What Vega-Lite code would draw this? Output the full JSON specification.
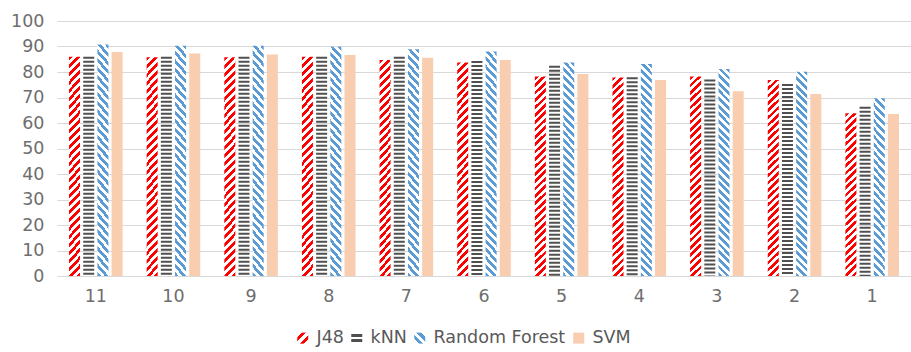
{
  "$schema": "https://vega.github.io/schema/vega-lite/v6.json",
  "autosize": "none",
  "width": 854,
  "height": 255,
  "padding": {"left": 57, "top": 21, "right": 0, "bottom": 76},
  "data": {"values": [
    {"g":"11","s":"J48","v":86.0},{"g":"11","s":"kNN","v":86.0},{"g":"11","s":"Random Forest","v":90.8},{"g":"11","s":"SVM","v":87.8},
    {"g":"10","s":"J48","v":85.8},{"g":"10","s":"kNN","v":86.0},{"g":"10","s":"Random Forest","v":90.3},{"g":"10","s":"SVM","v":87.3},
    {"g":"9","s":"J48","v":85.8},{"g":"9","s":"kNN","v":86.0},{"g":"9","s":"Random Forest","v":90.3},{"g":"9","s":"SVM","v":86.9},
    {"g":"8","s":"J48","v":86.0},{"g":"8","s":"kNN","v":86.0},{"g":"8","s":"Random Forest","v":89.9},{"g":"8","s":"SVM","v":86.7},
    {"g":"7","s":"J48","v":84.7},{"g":"7","s":"kNN","v":86.0},{"g":"7","s":"Random Forest","v":88.9},{"g":"7","s":"SVM","v":85.6},
    {"g":"6","s":"J48","v":83.7},{"g":"6","s":"kNN","v":84.3},{"g":"6","s":"Random Forest","v":88.0},{"g":"6","s":"SVM","v":84.7},
    {"g":"5","s":"J48","v":78.2},{"g":"5","s":"kNN","v":82.5},{"g":"5","s":"Random Forest","v":83.7},{"g":"5","s":"SVM","v":79.2},
    {"g":"4","s":"J48","v":77.8},{"g":"4","s":"kNN","v":77.9},{"g":"4","s":"Random Forest","v":83.1},{"g":"4","s":"SVM","v":76.9},
    {"g":"3","s":"J48","v":78.2},{"g":"3","s":"kNN","v":77.1},{"g":"3","s":"Random Forest","v":81.2},{"g":"3","s":"SVM","v":72.5},
    {"g":"2","s":"J48","v":76.9},{"g":"2","s":"kNN","v":75.3},{"g":"2","s":"Random Forest","v":80.1},{"g":"2","s":"SVM","v":71.4},
    {"g":"1","s":"J48","v":63.8},{"g":"1","s":"kNN","v":66.4},{"g":"1","s":"Random Forest","v":69.7},{"g":"1","s":"SVM","v":63.5}
  ]},
  "encoding": {
    "x": {"field": "g", "type": "ordinal",
      "scale": {"domain": ["11","10","9","8","7","6","5","4","3","2","1"], "paddingInner": 0.31, "paddingOuter": 0.155},
      "axis": {"title": null, "labelAngle": 0, "ticks": false, "grid": false, "labelFontSize": 17.5, "labelColor": "#6e6e6e", "labelPadding": 11, "domainColor": "#d9d9d9", "domainWidth": 1}},
    "xOffset": {"field": "s", "type": "nominal",
      "scale": {"domain": ["J48","kNN","Random Forest","SVM"], "paddingInner": 0.224, "paddingOuter": 0}},
    "y": {"field": "v", "type": "quantitative", "stack": null,
      "scale": {"domain": [0, 100]},
      "axis": {"title": null, "values": [0,10,20,30,40,50,60,70,80,90,100], "domain": false, "ticks": false, "labelPadding": 13, "gridColor": "#d9d9d9", "gridWidth": 1, "labelFontSize": 17.5, "labelColor": "#6e6e6e"}}
  },
  "layer": [
    {
      "transform": [{"filter": "datum.s === 'J48'"}],
      "mark": {"type": "bar"},
      "encoding": {
        "fill": {
          "condition": {"test": "datum.v < 75", "value": {"gradient": "linear", "x1": 0, "y1": 0, "x2": 0.0689, "y2": 1.0647, "stops": [
{"offset":0,"color":"red"},
{"offset":0.021,"color":"red"},{"offset":0.021,"color":"white"},
{"offset":0.042,"color":"white"},{"offset":0.042,"color":"red"},
{"offset":0.063,"color":"red"},{"offset":0.063,"color":"white"},
{"offset":0.084,"color":"white"},{"offset":0.084,"color":"red"},
{"offset":0.105,"color":"red"},{"offset":0.105,"color":"white"},
{"offset":0.126,"color":"white"},{"offset":0.126,"color":"red"},
{"offset":0.147,"color":"red"},{"offset":0.147,"color":"white"},
{"offset":0.168,"color":"white"},{"offset":0.168,"color":"red"},
{"offset":0.189,"color":"red"},{"offset":0.189,"color":"white"},
{"offset":0.21,"color":"white"},{"offset":0.21,"color":"red"},
{"offset":0.231,"color":"red"},{"offset":0.231,"color":"white"},
{"offset":0.252,"color":"white"},{"offset":0.252,"color":"red"},
{"offset":0.273,"color":"red"},{"offset":0.273,"color":"white"},
{"offset":0.294,"color":"white"},{"offset":0.294,"color":"red"},
{"offset":0.315,"color":"red"},{"offset":0.315,"color":"white"},
{"offset":0.336,"color":"white"},{"offset":0.336,"color":"red"},
{"offset":0.357,"color":"red"},{"offset":0.357,"color":"white"},
{"offset":0.378,"color":"white"},{"offset":0.378,"color":"red"},
{"offset":0.399,"color":"red"},{"offset":0.399,"color":"white"},
{"offset":0.42,"color":"white"},{"offset":0.42,"color":"red"},
{"offset":0.441,"color":"red"},{"offset":0.441,"color":"white"},
{"offset":0.462,"color":"white"},{"offset":0.462,"color":"red"},
{"offset":0.483,"color":"red"},{"offset":0.483,"color":"white"},
{"offset":0.504,"color":"white"},{"offset":0.504,"color":"red"},
{"offset":0.525,"color":"red"},{"offset":0.525,"color":"white"},
{"offset":0.546,"color":"white"},{"offset":0.546,"color":"red"},
{"offset":0.567,"color":"red"},{"offset":0.567,"color":"white"},
{"offset":0.588,"color":"white"},{"offset":0.588,"color":"red"},
{"offset":0.609,"color":"red"},{"offset":0.609,"color":"white"},
{"offset":0.63,"color":"white"},{"offset":0.63,"color":"red"},
{"offset":0.651,"color":"red"},{"offset":0.651,"color":"white"},
{"offset":0.672,"color":"white"},{"offset":0.672,"color":"red"},
{"offset":0.693,"color":"red"},{"offset":0.693,"color":"white"},
{"offset":0.714,"color":"white"},{"offset":0.714,"color":"red"},
{"offset":0.735,"color":"red"},{"offset":0.735,"color":"white"},
{"offset":0.756,"color":"white"},{"offset":0.756,"color":"red"},
{"offset":0.777,"color":"red"},{"offset":0.777,"color":"white"},
{"offset":0.798,"color":"white"},{"offset":0.798,"color":"red"},
{"offset":0.819,"color":"red"},{"offset":0.819,"color":"white"},
{"offset":0.84,"color":"white"},{"offset":0.84,"color":"red"},
{"offset":0.861,"color":"red"},{"offset":0.861,"color":"white"},
{"offset":0.882,"color":"white"},{"offset":0.882,"color":"red"},
{"offset":0.903,"color":"red"},{"offset":0.903,"color":"white"},
{"offset":0.924,"color":"white"},{"offset":0.924,"color":"red"},
{"offset":0.945,"color":"red"},{"offset":0.945,"color":"white"},
{"offset":0.966,"color":"white"},{"offset":0.966,"color":"red"},
{"offset":0.987,"color":"red"},{"offset":0.987,"color":"white"},
{"offset":1,"color":"white"}
          ]}},
          "value": {"gradient": "linear", "x1": 0, "y1": 0, "x2": 0.0566, "y2": 1.0537, "stops": [
{"offset":0,"color":"red"},
{"offset":0.0175,"color":"red"},{"offset":0.0175,"color":"white"},
{"offset":0.035,"color":"white"},{"offset":0.035,"color":"red"},
{"offset":0.0525,"color":"red"},{"offset":0.0525,"color":"white"},
{"offset":0.07,"color":"white"},{"offset":0.07,"color":"red"},
{"offset":0.0875,"color":"red"},{"offset":0.0875,"color":"white"},
{"offset":0.105,"color":"white"},{"offset":0.105,"color":"red"},
{"offset":0.1225,"color":"red"},{"offset":0.1225,"color":"white"},
{"offset":0.14,"color":"white"},{"offset":0.14,"color":"red"},
{"offset":0.1575,"color":"red"},{"offset":0.1575,"color":"white"},
{"offset":0.175,"color":"white"},{"offset":0.175,"color":"red"},
{"offset":0.1925,"color":"red"},{"offset":0.1925,"color":"white"},
{"offset":0.21,"color":"white"},{"offset":0.21,"color":"red"},
{"offset":0.2275,"color":"red"},{"offset":0.2275,"color":"white"},
{"offset":0.245,"color":"white"},{"offset":0.245,"color":"red"},
{"offset":0.2625,"color":"red"},{"offset":0.2625,"color":"white"},
{"offset":0.28,"color":"white"},{"offset":0.28,"color":"red"},
{"offset":0.2975,"color":"red"},{"offset":0.2975,"color":"white"},
{"offset":0.315,"color":"white"},{"offset":0.315,"color":"red"},
{"offset":0.3325,"color":"red"},{"offset":0.3325,"color":"white"},
{"offset":0.35,"color":"white"},{"offset":0.35,"color":"red"},
{"offset":0.3675,"color":"red"},{"offset":0.3675,"color":"white"},
{"offset":0.385,"color":"white"},{"offset":0.385,"color":"red"},
{"offset":0.4025,"color":"red"},{"offset":0.4025,"color":"white"},
{"offset":0.42,"color":"white"},{"offset":0.42,"color":"red"},
{"offset":0.4375,"color":"red"},{"offset":0.4375,"color":"white"},
{"offset":0.455,"color":"white"},{"offset":0.455,"color":"red"},
{"offset":0.4725,"color":"red"},{"offset":0.4725,"color":"white"},
{"offset":0.49,"color":"white"},{"offset":0.49,"color":"red"},
{"offset":0.5075,"color":"red"},{"offset":0.5075,"color":"white"},
{"offset":0.525,"color":"white"},{"offset":0.525,"color":"red"},
{"offset":0.5425,"color":"red"},{"offset":0.5425,"color":"white"},
{"offset":0.56,"color":"white"},{"offset":0.56,"color":"red"},
{"offset":0.5775,"color":"red"},{"offset":0.5775,"color":"white"},
{"offset":0.595,"color":"white"},{"offset":0.595,"color":"red"},
{"offset":0.6125,"color":"red"},{"offset":0.6125,"color":"white"},
{"offset":0.63,"color":"white"},{"offset":0.63,"color":"red"},
{"offset":0.6475,"color":"red"},{"offset":0.6475,"color":"white"},
{"offset":0.665,"color":"white"},{"offset":0.665,"color":"red"},
{"offset":0.6825,"color":"red"},{"offset":0.6825,"color":"white"},
{"offset":0.7,"color":"white"},{"offset":0.7,"color":"red"},
{"offset":0.7175,"color":"red"},{"offset":0.7175,"color":"white"},
{"offset":0.735,"color":"white"},{"offset":0.735,"color":"red"},
{"offset":0.7525,"color":"red"},{"offset":0.7525,"color":"white"},
{"offset":0.77,"color":"white"},{"offset":0.77,"color":"red"},
{"offset":0.7875,"color":"red"},{"offset":0.7875,"color":"white"},
{"offset":0.805,"color":"white"},{"offset":0.805,"color":"red"},
{"offset":0.8225,"color":"red"},{"offset":0.8225,"color":"white"},
{"offset":0.84,"color":"white"},{"offset":0.84,"color":"red"},
{"offset":0.8575,"color":"red"},{"offset":0.8575,"color":"white"},
{"offset":0.875,"color":"white"},{"offset":0.875,"color":"red"},
{"offset":0.8925,"color":"red"},{"offset":0.8925,"color":"white"},
{"offset":0.91,"color":"white"},{"offset":0.91,"color":"red"},
{"offset":0.9275,"color":"red"},{"offset":0.9275,"color":"white"},
{"offset":0.945,"color":"white"},{"offset":0.945,"color":"red"},
{"offset":0.9625,"color":"red"},{"offset":0.9625,"color":"white"},
{"offset":0.98,"color":"white"},{"offset":0.98,"color":"red"},
{"offset":0.9975,"color":"red"},{"offset":0.9975,"color":"white"},
{"offset":1,"color":"white"}
          ]}
        }
      }
    },
    {
      "transform": [{"filter": "datum.s === 'kNN'"}],
      "mark": {"type": "rule", "strokeWidth": 11, "strokeDash": [2, 2], "strokeCap": "butt", "color": "#505050"},
      "encoding": {"y2": {"datum": 0}}
    },
    {
      "transform": [{"filter": "datum.s === 'Random Forest'"}],
      "mark": {"type": "bar"},
      "encoding": {
        "fill": {
          "condition": {"test": "datum.v < 75", "value": {"gradient": "linear", "x1": 1, "y1": 0, "x2": 0.9311, "y2": 1.0647, "stops": [
{"offset":0,"color":"#5b9bd5"},
{"offset":0.021,"color":"#5b9bd5"},{"offset":0.021,"color":"white"},
{"offset":0.042,"color":"white"},{"offset":0.042,"color":"#5b9bd5"},
{"offset":0.063,"color":"#5b9bd5"},{"offset":0.063,"color":"white"},
{"offset":0.084,"color":"white"},{"offset":0.084,"color":"#5b9bd5"},
{"offset":0.105,"color":"#5b9bd5"},{"offset":0.105,"color":"white"},
{"offset":0.126,"color":"white"},{"offset":0.126,"color":"#5b9bd5"},
{"offset":0.147,"color":"#5b9bd5"},{"offset":0.147,"color":"white"},
{"offset":0.168,"color":"white"},{"offset":0.168,"color":"#5b9bd5"},
{"offset":0.189,"color":"#5b9bd5"},{"offset":0.189,"color":"white"},
{"offset":0.21,"color":"white"},{"offset":0.21,"color":"#5b9bd5"},
{"offset":0.231,"color":"#5b9bd5"},{"offset":0.231,"color":"white"},
{"offset":0.252,"color":"white"},{"offset":0.252,"color":"#5b9bd5"},
{"offset":0.273,"color":"#5b9bd5"},{"offset":0.273,"color":"white"},
{"offset":0.294,"color":"white"},{"offset":0.294,"color":"#5b9bd5"},
{"offset":0.315,"color":"#5b9bd5"},{"offset":0.315,"color":"white"},
{"offset":0.336,"color":"white"},{"offset":0.336,"color":"#5b9bd5"},
{"offset":0.357,"color":"#5b9bd5"},{"offset":0.357,"color":"white"},
{"offset":0.378,"color":"white"},{"offset":0.378,"color":"#5b9bd5"},
{"offset":0.399,"color":"#5b9bd5"},{"offset":0.399,"color":"white"},
{"offset":0.42,"color":"white"},{"offset":0.42,"color":"#5b9bd5"},
{"offset":0.441,"color":"#5b9bd5"},{"offset":0.441,"color":"white"},
{"offset":0.462,"color":"white"},{"offset":0.462,"color":"#5b9bd5"},
{"offset":0.483,"color":"#5b9bd5"},{"offset":0.483,"color":"white"},
{"offset":0.504,"color":"white"},{"offset":0.504,"color":"#5b9bd5"},
{"offset":0.525,"color":"#5b9bd5"},{"offset":0.525,"color":"white"},
{"offset":0.546,"color":"white"},{"offset":0.546,"color":"#5b9bd5"},
{"offset":0.567,"color":"#5b9bd5"},{"offset":0.567,"color":"white"},
{"offset":0.588,"color":"white"},{"offset":0.588,"color":"#5b9bd5"},
{"offset":0.609,"color":"#5b9bd5"},{"offset":0.609,"color":"white"},
{"offset":0.63,"color":"white"},{"offset":0.63,"color":"#5b9bd5"},
{"offset":0.651,"color":"#5b9bd5"},{"offset":0.651,"color":"white"},
{"offset":0.672,"color":"white"},{"offset":0.672,"color":"#5b9bd5"},
{"offset":0.693,"color":"#5b9bd5"},{"offset":0.693,"color":"white"},
{"offset":0.714,"color":"white"},{"offset":0.714,"color":"#5b9bd5"},
{"offset":0.735,"color":"#5b9bd5"},{"offset":0.735,"color":"white"},
{"offset":0.756,"color":"white"},{"offset":0.756,"color":"#5b9bd5"},
{"offset":0.777,"color":"#5b9bd5"},{"offset":0.777,"color":"white"},
{"offset":0.798,"color":"white"},{"offset":0.798,"color":"#5b9bd5"},
{"offset":0.819,"color":"#5b9bd5"},{"offset":0.819,"color":"white"},
{"offset":0.84,"color":"white"},{"offset":0.84,"color":"#5b9bd5"},
{"offset":0.861,"color":"#5b9bd5"},{"offset":0.861,"color":"white"},
{"offset":0.882,"color":"white"},{"offset":0.882,"color":"#5b9bd5"},
{"offset":0.903,"color":"#5b9bd5"},{"offset":0.903,"color":"white"},
{"offset":0.924,"color":"white"},{"offset":0.924,"color":"#5b9bd5"},
{"offset":0.945,"color":"#5b9bd5"},{"offset":0.945,"color":"white"},
{"offset":0.966,"color":"white"},{"offset":0.966,"color":"#5b9bd5"},
{"offset":0.987,"color":"#5b9bd5"},{"offset":0.987,"color":"white"},
{"offset":1,"color":"white"}
          ]}},
          "value": {"gradient": "linear", "x1": 1, "y1": 0, "x2": 0.9434, "y2": 1.0537, "stops": [
{"offset":0,"color":"#5b9bd5"},
{"offset":0.0175,"color":"#5b9bd5"},{"offset":0.0175,"color":"white"},
{"offset":0.035,"color":"white"},{"offset":0.035,"color":"#5b9bd5"},
{"offset":0.0525,"color":"#5b9bd5"},{"offset":0.0525,"color":"white"},
{"offset":0.07,"color":"white"},{"offset":0.07,"color":"#5b9bd5"},
{"offset":0.0875,"color":"#5b9bd5"},{"offset":0.0875,"color":"white"},
{"offset":0.105,"color":"white"},{"offset":0.105,"color":"#5b9bd5"},
{"offset":0.1225,"color":"#5b9bd5"},{"offset":0.1225,"color":"white"},
{"offset":0.14,"color":"white"},{"offset":0.14,"color":"#5b9bd5"},
{"offset":0.1575,"color":"#5b9bd5"},{"offset":0.1575,"color":"white"},
{"offset":0.175,"color":"white"},{"offset":0.175,"color":"#5b9bd5"},
{"offset":0.1925,"color":"#5b9bd5"},{"offset":0.1925,"color":"white"},
{"offset":0.21,"color":"white"},{"offset":0.21,"color":"#5b9bd5"},
{"offset":0.2275,"color":"#5b9bd5"},{"offset":0.2275,"color":"white"},
{"offset":0.245,"color":"white"},{"offset":0.245,"color":"#5b9bd5"},
{"offset":0.2625,"color":"#5b9bd5"},{"offset":0.2625,"color":"white"},
{"offset":0.28,"color":"white"},{"offset":0.28,"color":"#5b9bd5"},
{"offset":0.2975,"color":"#5b9bd5"},{"offset":0.2975,"color":"white"},
{"offset":0.315,"color":"white"},{"offset":0.315,"color":"#5b9bd5"},
{"offset":0.3325,"color":"#5b9bd5"},{"offset":0.3325,"color":"white"},
{"offset":0.35,"color":"white"},{"offset":0.35,"color":"#5b9bd5"},
{"offset":0.3675,"color":"#5b9bd5"},{"offset":0.3675,"color":"white"},
{"offset":0.385,"color":"white"},{"offset":0.385,"color":"#5b9bd5"},
{"offset":0.4025,"color":"#5b9bd5"},{"offset":0.4025,"color":"white"},
{"offset":0.42,"color":"white"},{"offset":0.42,"color":"#5b9bd5"},
{"offset":0.4375,"color":"#5b9bd5"},{"offset":0.4375,"color":"white"},
{"offset":0.455,"color":"white"},{"offset":0.455,"color":"#5b9bd5"},
{"offset":0.4725,"color":"#5b9bd5"},{"offset":0.4725,"color":"white"},
{"offset":0.49,"color":"white"},{"offset":0.49,"color":"#5b9bd5"},
{"offset":0.5075,"color":"#5b9bd5"},{"offset":0.5075,"color":"white"},
{"offset":0.525,"color":"white"},{"offset":0.525,"color":"#5b9bd5"},
{"offset":0.5425,"color":"#5b9bd5"},{"offset":0.5425,"color":"white"},
{"offset":0.56,"color":"white"},{"offset":0.56,"color":"#5b9bd5"},
{"offset":0.5775,"color":"#5b9bd5"},{"offset":0.5775,"color":"white"},
{"offset":0.595,"color":"white"},{"offset":0.595,"color":"#5b9bd5"},
{"offset":0.6125,"color":"#5b9bd5"},{"offset":0.6125,"color":"white"},
{"offset":0.63,"color":"white"},{"offset":0.63,"color":"#5b9bd5"},
{"offset":0.6475,"color":"#5b9bd5"},{"offset":0.6475,"color":"white"},
{"offset":0.665,"color":"white"},{"offset":0.665,"color":"#5b9bd5"},
{"offset":0.6825,"color":"#5b9bd5"},{"offset":0.6825,"color":"white"},
{"offset":0.7,"color":"white"},{"offset":0.7,"color":"#5b9bd5"},
{"offset":0.7175,"color":"#5b9bd5"},{"offset":0.7175,"color":"white"},
{"offset":0.735,"color":"white"},{"offset":0.735,"color":"#5b9bd5"},
{"offset":0.7525,"color":"#5b9bd5"},{"offset":0.7525,"color":"white"},
{"offset":0.77,"color":"white"},{"offset":0.77,"color":"#5b9bd5"},
{"offset":0.7875,"color":"#5b9bd5"},{"offset":0.7875,"color":"white"},
{"offset":0.805,"color":"white"},{"offset":0.805,"color":"#5b9bd5"},
{"offset":0.8225,"color":"#5b9bd5"},{"offset":0.8225,"color":"white"},
{"offset":0.84,"color":"white"},{"offset":0.84,"color":"#5b9bd5"},
{"offset":0.8575,"color":"#5b9bd5"},{"offset":0.8575,"color":"white"},
{"offset":0.875,"color":"white"},{"offset":0.875,"color":"#5b9bd5"},
{"offset":0.8925,"color":"#5b9bd5"},{"offset":0.8925,"color":"white"},
{"offset":0.91,"color":"white"},{"offset":0.91,"color":"#5b9bd5"},
{"offset":0.9275,"color":"#5b9bd5"},{"offset":0.9275,"color":"white"},
{"offset":0.945,"color":"white"},{"offset":0.945,"color":"#5b9bd5"},
{"offset":0.9625,"color":"#5b9bd5"},{"offset":0.9625,"color":"white"},
{"offset":0.98,"color":"white"},{"offset":0.98,"color":"#5b9bd5"},
{"offset":0.9975,"color":"#5b9bd5"},{"offset":0.9975,"color":"white"},
{"offset":1,"color":"white"}
          ]}
        }
      }
    },
    {
      "transform": [{"filter": "datum.s === 'SVM'"}],
      "mark": {"type": "bar", "strokeWidth": 0,
        "fill": {"expr": "datum.value === 'J48' ? {gradient: 'linear', x1: 0, y1: 0, x2: 1, y2: 1, stops: [{offset: 0, color: 'white'}, {offset: 0.2, color: 'white'}, {offset: 0.2, color: 'red'}, {offset: 0.4, color: 'red'}, {offset: 0.4, color: 'white'}, {offset: 0.6, color: 'white'}, {offset: 0.6, color: 'red'}, {offset: 0.8, color: 'red'}, {offset: 0.8, color: 'white'}, {offset: 1, color: 'white'}]} : datum.value === 'kNN' ? {gradient: 'linear', x1: 0, y1: 0, x2: 0, y2: 1, stops: [{offset: 0, color: 'white'}, {offset: 0.15, color: 'white'}, {offset: 0.15, color: '#505050'}, {offset: 0.4, color: '#505050'}, {offset: 0.4, color: 'white'}, {offset: 0.6, color: 'white'}, {offset: 0.6, color: '#505050'}, {offset: 0.85, color: '#505050'}, {offset: 0.85, color: 'white'}, {offset: 1, color: 'white'}]} : datum.value === 'Random Forest' ? {gradient: 'linear', x1: 1, y1: 0, x2: 0, y2: 1, stops: [{offset: 0, color: 'white'}, {offset: 0.2, color: 'white'}, {offset: 0.2, color: '#5b9bd5'}, {offset: 0.4, color: '#5b9bd5'}, {offset: 0.4, color: 'white'}, {offset: 0.6, color: 'white'}, {offset: 0.6, color: '#5b9bd5'}, {offset: 0.8, color: '#5b9bd5'}, {offset: 0.8, color: 'white'}, {offset: 1, color: 'white'}]} : '#f9cdb0'"}},
      "encoding": {
        "stroke": {"field": "s", "type": "nominal",
          "scale": {"domain": ["J48","kNN","Random Forest","SVM"], "range": ["#ff0000","#505050","#5b9bd5","#f9cdb0"]},
          "legend": {"title": null, "orient": "none", "legendX": 237, "legendY": 308, "direction": "horizontal",
            "symbolType": "square", "symbolSize": 121, "symbolStrokeWidth": 0,
            "labelFontSize": 17.5, "labelColor": "#595959", "labelOffset": 5, "columnPadding": 4}
        }
      }
    }
  ],
  "config": {"view": {"stroke": null}, "font": "DejaVu Sans"}
}
